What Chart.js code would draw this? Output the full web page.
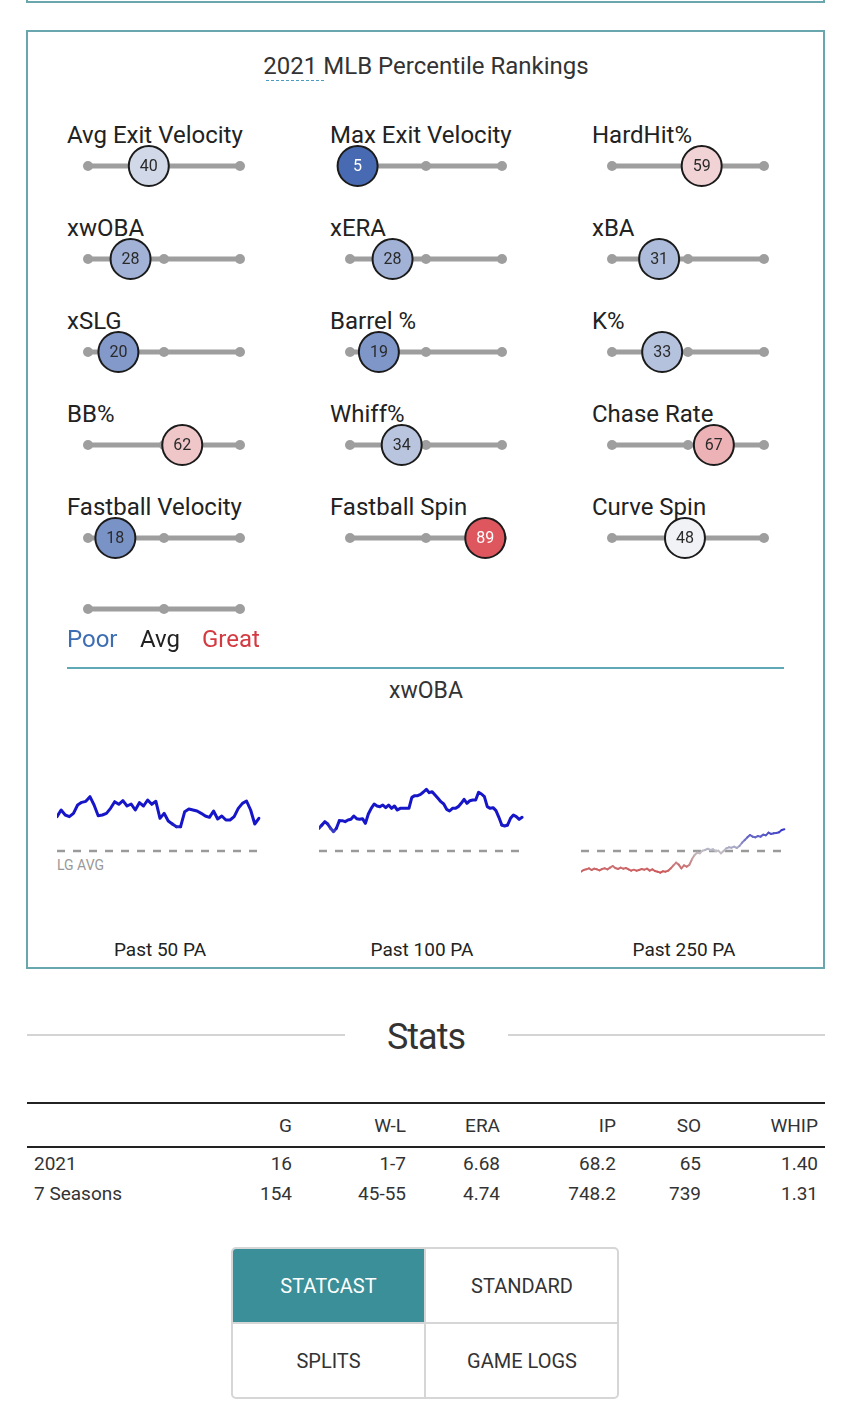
<!DOCTYPE html>
<html>
<head>
<meta charset="utf-8">
<script src="https://cdn.jsdelivr.net/npm/chart.js@4.4.0/dist/chart.umd.min.js"></script>
<style>
  body { margin: 0; background: #fff; font-family: Roboto, sans-serif; color: #222; }
  #page { position: relative; width: 850px; height: 1415px; overflow: hidden; }
  .abs { position: absolute; white-space: nowrap; }
  .box { position: absolute; border: 2px solid #6aa6ad; box-sizing: border-box; }
  canvas { position: absolute; }
  .btn { position: absolute; display: flex; align-items: center; justify-content: center;
         font-size: 20px; color: #333; box-sizing: border-box; }
</style>
</head>
<body>
<div id="page">
  <div class="box" style="left:26px;top:-50px;width:799px;height:53px"></div>
  <div class="box" style="left:26px;top:30px;width:799px;height:939px"></div>

  <div class="abs" style="left:226px;top:54px;width:400px;text-align:center;font-size:24px;line-height:24px;color:#333">2021 MLB Percentile Rankings</div>
  <div class="abs" style="left:266px;top:80px;width:58px;border-top:1.5px dashed #4a9bc4"></div>

  <div id="sliders"></div>

  <div class="abs" style="left:67px;top:627px;font-size:24px;line-height:24px;color:#3d6db3">Poor</div>
  <div class="abs" style="left:140px;top:627px;font-size:24px;line-height:24px;color:#222">Avg</div>
  <div class="abs" style="left:202px;top:627px;font-size:24px;line-height:24px;color:#d43a42">Great</div>

  <div class="abs" style="left:67px;top:667px;width:717px;border-top:2px solid #5fa8b5"></div>
  <div class="abs" style="left:226px;top:679px;width:400px;text-align:center;font-size:23px;line-height:23px;color:#333">xwOBA</div>

  <div class="abs" style="left:57px;top:858px;font-size:14px;line-height:14px;color:#999">LG AVG</div>
  <div id="sparks"></div>

  <div class="abs" style="left:27px;top:1034px;width:318px;border-top:2px solid #d4d4d4"></div>
  <div class="abs" style="left:508px;top:1034px;width:317px;border-top:2px solid #d4d4d4"></div>
  <div class="abs" style="left:226px;top:1019px;width:400px;text-align:center;font-size:36px;line-height:36px;letter-spacing:-1px;color:#333">Stats</div>

  <div class="abs" style="left:27px;top:1102px;width:798px;border-top:2px solid #222"></div>
  <div class="abs" style="left:27px;top:1146px;width:798px;border-top:2px solid #222"></div>
  <div id="statTable"></div>

  <div id="tabs" class="abs" style="left:231px;top:1247px;width:388px;height:152px;border:2px solid #d6d6d6;border-radius:5px;box-sizing:border-box;overflow:hidden"></div>
</div>

<script>
// -----------------------------
// Data
// -----------------------------
const metricNames = [
  "Avg Exit Velocity", "Max Exit Velocity", "HardHit%",
  "xwOBA", "xERA", "xBA",
  "xSLG", "Barrel %", "K%",
  "BB%", "Whiff%", "Chase Rate",
  "Fastball Velocity", "Fastball Spin", "Curve Spin"
];
const percentiles = [40, 5, 59, 28, 28, 31, 20, 19, 33, 62, 34, 67, 18, 89, 48];

const sparkTitles = ["Past 50 PA", "Past 100 PA", "Past 250 PA"];
const lgAvg = 0.315;
const past50 = [.418, .438, .423, .418, .428, .453, .461, .464, .478, .453, .421, .423, .428, .443, .463,
  .455, .466, .450, .456, .438, .460, .450, .468, .455, .464, .413, .428, .405, .396, .388,
  .388, .433, .441, .438, .435, .428, .420, .416, .435, .411, .420, .408, .408, .418, .443,
  .458, .465, .438, .396, .413];
const past100 = [.383, .393, .403, .396, .383, .373, .383, .406, .406, .403, .408, .410, .420, .412, .410,
  .412, .398, .426, .443, .456, .450, .448, .453, .445, .453, .443, .450, .438, .443, .443,
  .443, .443, .476, .481, .481, .485, .492, .500, .490, .493, .483, .473, .463, .456, .440,
  .435, .443, .443, .448, .458, .470, .458, .466, .468, .468, .491, .486, .478, .448, .443,
  .445, .436, .416, .393, .390, .393, .413, .423, .418, .410, .416];
const past250 = [.253, .258, .260, .263, .258, .262, .260, .257, .261, .263, .260, .265, .270, .264, .261,
  .265, .262, .264, .260, .256, .259, .256, .258, .261, .259, .262, .256, .260, .255, .253,
  .250, .254, .253, .256, .263, .272, .280, .274, .263, .272, .268, .273, .290, .303, .310,
  .308, .316, .318, .322, .318, .320, .315, .316, .308, .315, .323, .326, .325, .328, .324,
  .330, .340, .348, .356, .363, .358, .356, .360, .358, .364, .362, .370, .366, .368, .369,
  .371, .378, .380];

const statHeaders = ["", "G", "W-L", "ERA", "IP", "SO", "WHIP"];
const row2021 = ["2021", "16", "1-7", "6.68", "68.2", "65", "1.40"];
const rowCareer = ["7 Seasons", "154", "45-55", "4.74", "748.2", "739", "1.31"];

const tabButtons = ["STATCAST", "STANDARD", "SPLITS", "GAME LOGS"];

// -----------------------------
// Helpers
// -----------------------------
function mix(a, b, t) {
  return "rgb(" + a.map((v, i) => Math.round(v + (b[i] - v) * t)).join(",") + ")";
}

// blue (poor) -> white (avg) -> red (great)
function pctColor(p) {
  const blue = [51, 90, 170], mid = [248, 248, 248], red = [215, 42, 52];
  return p < 50 ? mix(blue, mid, p / 50) : mix(mid, red, (p - 50) / 50);
}

// sparkline colour by distance from league average
function sparkColor(v) {
  const t = Math.max(-1, Math.min(1, (v - lgAvg) / 0.08));
  const gray = [192, 192, 198], blue = [22, 22, 200], red = [210, 60, 60];
  return t >= 0 ? mix(gray, blue, t) : mix(gray, red, -t);
}

function addCanvas(parent, left, top, w, h) {
  const c = document.createElement("canvas");
  c.width = w; c.height = h;
  c.style.left = left + "px"; c.style.top = top + "px";
  c.style.width = w + "px"; c.style.height = h + "px";
  parent.appendChild(c);
  return c;
}

function addText(parent, text, css) {
  const d = document.createElement("div");
  d.className = "abs";
  d.textContent = text;
  d.style.cssText = css;
  parent.appendChild(d);
  return d;
}

// -----------------------------
// Percentile sliders
// -----------------------------
const circleLabel = {
  id: "circleLabel",
  afterDatasetsDraw(chart) {
    if (chart.data.datasets.length < 2) return;
    const pt = chart.getDatasetMeta(1).data[0];
    const p = chart.data.datasets[1].data[0].x;
    const ctx = chart.ctx;
    ctx.save();
    ctx.font = "16px Roboto";
    ctx.fillStyle = (p < 10 || p > 80) ? "#ffffff" : "#2a2a2a";
    ctx.textAlign = "center";
    ctx.textBaseline = "middle";
    ctx.fillText(String(p), pt.x, pt.y + 1);
    ctx.restore();
  }
};

function makeSlider(canvas, p) {
  const datasets = [{
    data: [{ x: 0, y: 0 }, { x: 50, y: 0 }, { x: 100, y: 0 }], clip: false, order: 2,
    borderColor: "#9e9e9e", borderWidth: 5, pointRadius: 5,
    pointBackgroundColor: "#9e9e9e", pointBorderWidth: 0
  }];
  if (p !== null) {
    datasets.push({
      data: [{ x: p, y: 0 }], showLine: false, clip: false, order: 1,
      pointRadius: 20, pointBackgroundColor: pctColor(p),
      pointBorderColor: "#1b1b1b", pointBorderWidth: 2
    });
  }
  new Chart(canvas, {
    type: "line",
    data: { datasets: datasets },
    options: {
      responsive: false, animation: false, events: [],
      layout: { padding: { left: 26, right: 26, top: 0, bottom: 0 } },
      plugins: { legend: { display: false }, tooltip: { enabled: false } },
      scales: {
        x: { type: "linear", min: 0, max: 100, display: false },
        y: { min: -1, max: 1, display: false }
      }
    },
    plugins: [circleLabel]
  });
}

const sliders = document.getElementById("sliders");
const labelX = [67, 330, 592];
const trackX = [88, 350, 612];
metricNames.forEach((name, i) => {
  const col = i % 3, row = Math.floor(i / 3);
  addText(sliders, name, `left:${labelX[col]}px;top:${123 + row * 93}px;font-size:24px;line-height:24px;color:#222`);
  makeSlider(addCanvas(sliders, trackX[col] - 26, 166 + row * 93 - 26, 204, 52), percentiles[i]);
});

// legend track (Poor / Avg / Great)
makeSlider(addCanvas(sliders, trackX[0] - 26, 609 - 26, 204, 52), null);

// -----------------------------
// xwOBA sparklines
// -----------------------------
const sparks = document.getElementById("sparks");
const sparkLeft = [57, 319, 581];
[past50, past100, past250].forEach((series, k) => {
  const n = series.length;
  const c = addCanvas(sparks, sparkLeft[k], 771, 206, 120);
  new Chart(c, {
    type: "line",
    data: {
      datasets: [
        {
          data: series.map((v, i) => ({ x: i, y: v })),
          borderColor: "#1616c8", borderWidth: k === 2 ? 2 : 3, pointRadius: 0,
          tension: 0, clip: false, borderJoinStyle: "round", borderCapStyle: "round",
          segment: { borderColor: s => sparkColor((s.p0.parsed.y + s.p1.parsed.y) / 2) }
        },
        {
          data: [{ x: 0, y: lgAvg }, { x: n, y: lgAvg }],
          borderColor: "#9a9a9a", borderWidth: 2.5, borderDash: [8, 8], pointRadius: 0, clip: false
        }
      ]
    },
    options: {
      responsive: false, animation: false, events: [],
      layout: { padding: 0 },
      plugins: { legend: { display: false }, tooltip: { enabled: false } },
      scales: {
        x: { type: "linear", min: 0, max: n, display: false },
        y: { min: 0.195, max: 0.555, display: false }
      }
    }
  });
  addText(sparks, sparkTitles[k], `left:${sparkLeft[k] + 3}px;top:940px;width:200px;text-align:center;font-size:19px;line-height:19px;color:#222`);
});

// -----------------------------
// Stats table
// -----------------------------
const table = document.getElementById("statTable");
const colRight = [0, 292, 406, 500, 616, 701, 818];
[[statHeaders, 1116], [row2021, 1154], [rowCareer, 1184]].forEach(([row, top]) => {
  row.forEach((txt, j) => {
    if (j === 0) {
      addText(table, txt, `left:34px;top:${top}px;font-size:19px;line-height:19px;color:#333`);
    } else {
      addText(table, txt, `left:${colRight[j] - 150}px;top:${top}px;width:150px;text-align:right;font-size:19px;line-height:19px;color:#333`);
    }
  });
});

// -----------------------------
// Tab buttons
// -----------------------------
const tabs = document.getElementById("tabs");
tabButtons.forEach((label, i) => {
  const d = document.createElement("div");
  d.className = "btn";
  const col = i % 2, row = Math.floor(i / 2);
  d.style.left = (col * 193) + "px";
  d.style.top = (row * 75) + "px";
  d.style.width = (col === 0 ? 193 : 192) + "px";
  d.style.height = (row === 0 ? 75 : 74) + "px";
  if (col === 0) d.style.borderRight = "2px solid #d6d6d6";
  if (row === 0) d.style.borderBottom = "2px solid #d6d6d6";
  if (i === 0) { d.style.background = "#3a8f98"; d.style.color = "#fff"; }
  d.textContent = label;
  tabs.appendChild(d);
});
</script>
</body>
</html>
